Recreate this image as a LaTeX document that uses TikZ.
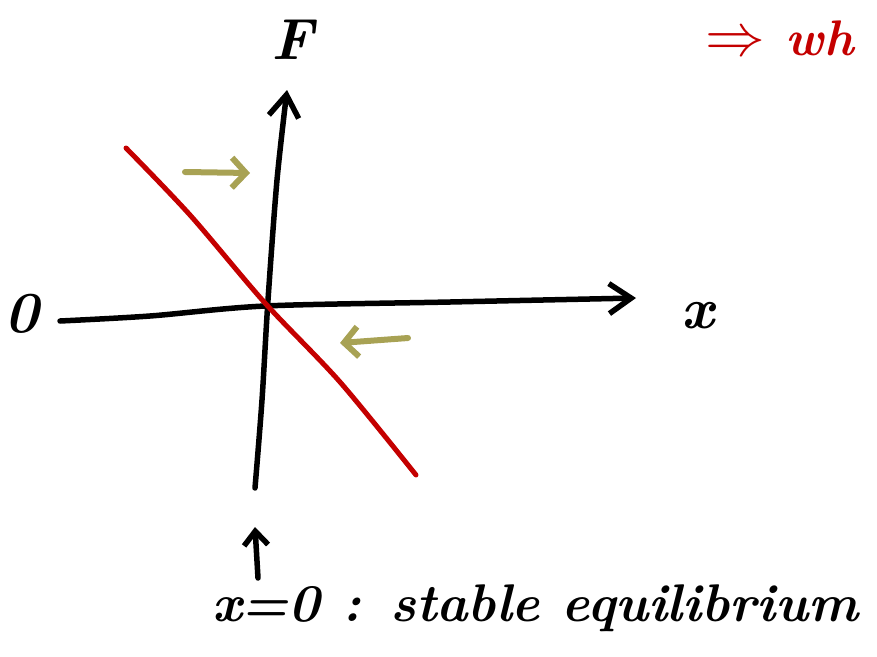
\documentclass[tikz,border=0pt]{standalone}
\usepackage{graphicx}
\usetikzlibrary{arrows.meta}
\definecolor{penred}{RGB}{196,0,0}
\definecolor{penolive}{RGB}{168,162,84}
\begin{document}
\begin{tikzpicture}[x=1pt,y=-1pt,
  axis/.style={line width=5.5pt,line cap=round,line join=round,black},
  redcurve/.style={line width=5pt,line cap=round,penred},
  hint/.style={line width=6pt,line cap=round,line join=round,penolive,-{Straight Barb[length=14pt,width=30pt,line width=6pt]}},
  bigbarb/.style={-{Straight Barb[length=22pt,width=30pt,line width=5.5pt]}},
  lbl/.style={font=\fontsize{58}{62}\selectfont\bfseries\itshape,inner sep=0pt}]
\useasboundingbox (0,0) rectangle (877,656);
% named points
\coordinate (xs) at (60,321);
\coordinate (xe) at (636,298);
\coordinate (ys) at (255,488);
\coordinate (ye) at (287,90);
\coordinate (rs) at (126,148);
\coordinate (re) at (416,475);
\coordinate (o1s) at (185,172);
\coordinate (o1e) at (250,173);
\coordinate (o2s) at (408,338);
\coordinate (o2e) at (340,343);
\coordinate (us) at (258,578);
\coordinate (ue) at (255,527);
% axes
\draw[axis,bigbarb] plot[smooth] coordinates {(xs) (150,316) (265,306) (450,302) (xe)};
\draw[axis,bigbarb] plot[smooth] coordinates {(ys) (262,400) (268,300) (277,180) (ye)};
% red line
\draw[redcurve] plot[smooth] coordinates {(rs) (190,215) (265,303) (340,382) (re)};
% olive arrows
\draw[hint] (o1s) -- (o1e);
\draw[hint] (o2s) -- (o2e);
% up arrow below
\draw[axis,-{Straight Barb[length=14pt,width=24pt,line width=5.5pt]}] (us) -- (ue);
% labels
\node[lbl] (F) at (293,40) {F};
\node[lbl] (X) at (698,316) {x};
\node[lbl] (O) at (22,314) {0};
\node[lbl,font=\fontsize{53}{58}\selectfont\bfseries\itshape,anchor=west] (eq) at (212,608) {x=0 : stable equilibrium};
\node[lbl,font=\fontsize{50}{54}\selectfont\bfseries\itshape,anchor=west,text=penred] (wh) at (705,38) {\scalebox{2.4}{$\Rightarrow$} wh};
\end{tikzpicture}
\end{document}
